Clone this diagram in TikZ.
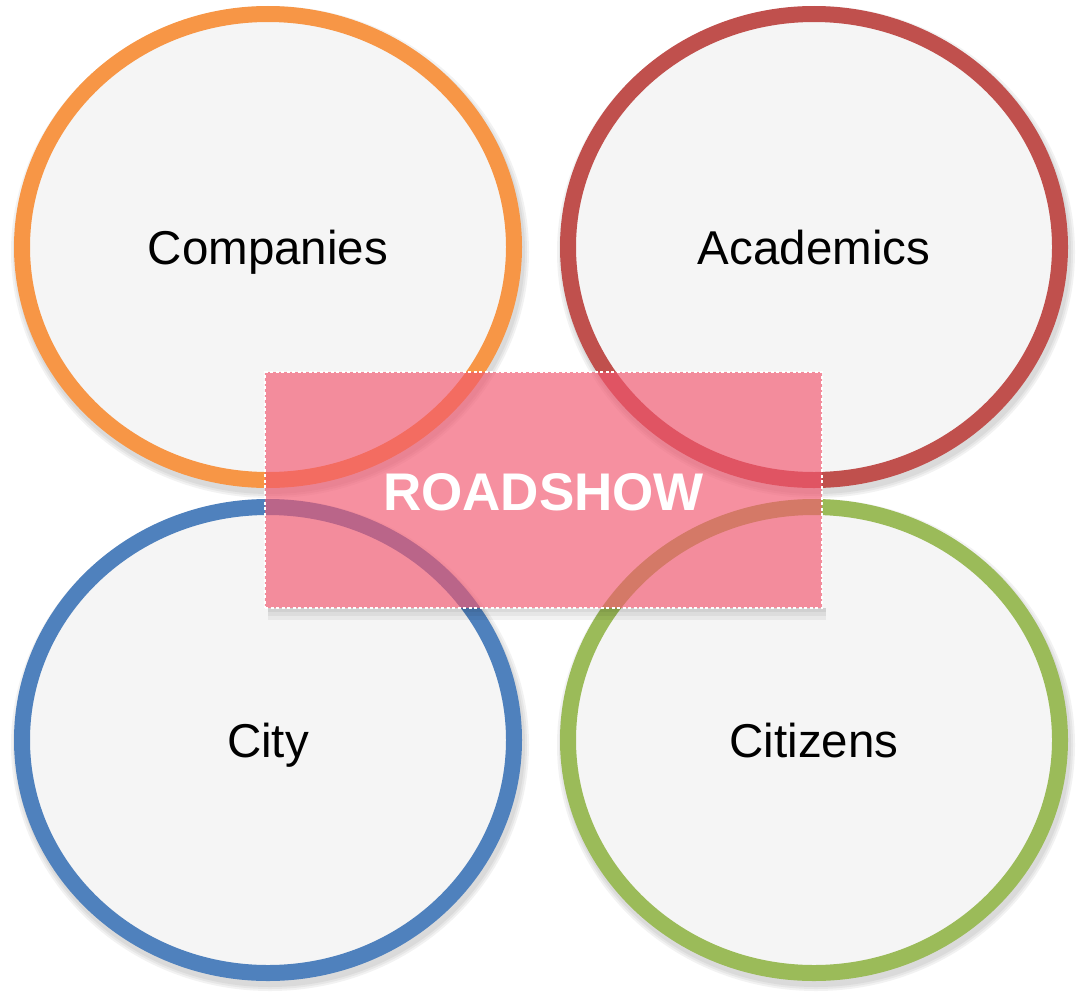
\documentclass[tikz,border=0pt]{standalone}
\usepackage{fontspec}
\setmainfont{Liberation Sans}
\usetikzlibrary{shapes.geometric}
\definecolor{cOrange}{HTML}{F79646}
\definecolor{cRed}{HTML}{C0504D}
\definecolor{cBlue}{HTML}{4F81BD}
\definecolor{cGreen}{HTML}{9BBB59}
\definecolor{ringfill}{HTML}{F5F5F5}
\definecolor{pinkc}{RGB}{242,87,111}
\begin{document}
\begin{tikzpicture}[x=1pt,y=-1pt,
  ring/.style={ellipse, draw, line width=16pt, fill=ringfill,
    minimum width=492pt, minimum height=466pt, inner sep=0pt,
    font=\fontsize{47.5}{56}\selectfont, text=black,
    text height=36pt, text depth=2pt},
  ringshadow/.style={ellipse, draw=black, line width=#1, draw opacity=0.05,
    minimum width=492pt, minimum height=466pt, inner sep=0pt},
  boxshadow/.style={fill=black, fill opacity=0.05, draw=none}]
\useasboundingbox (0,0) rectangle (1076,993);
% soft shadows of the rings
\foreach \cx/\cy in {268/247, 814/247, 268/740, 814/740}{
  \foreach \w in {18,22,26}{
    \node[ringshadow=\w pt] at (\cx+2,\cy+5) {};
  }
}
\node[ring, draw=cOrange] (companies) at (268,247) {Companies};
\node[ring, draw=cRed] (academics) at (814,247) {Academics};
\node[ring, draw=cBlue] (city) at (268,740) {City};
\node[ring, draw=cGreen] (citizens) at (814,740) {Citizens};
% shadow of the box (visible below it only)
\foreach \d in {4,8,12}{
  \fill[boxshadow] (268,608) rectangle (826,608+\d);
}
\node[rectangle, fill=pinkc, fill opacity=0.66, draw=white, draw opacity=1,
  line width=1.3pt, dash pattern=on 3pt off 2.5pt,
  minimum width=557pt, minimum height=236pt, inner sep=0pt,
  text opacity=1, text=white, font=\fontsize{53}{60}\selectfont\bfseries,
  text height=42pt, text depth=2pt]
  (roadshow) at (543.5,490) {ROADSHOW};
\end{tikzpicture}
\end{document}
